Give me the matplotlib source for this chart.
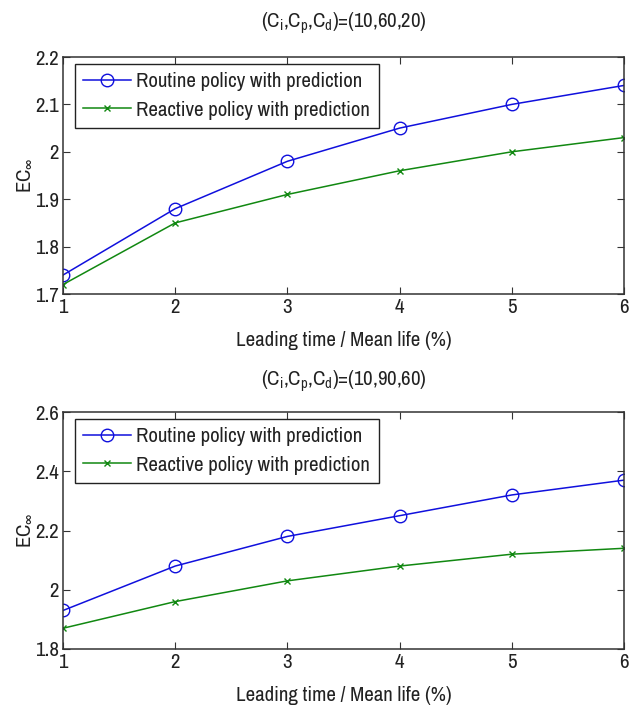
import matplotlib
matplotlib.use("Agg")
import matplotlib.pyplot as plt
from matplotlib import font_manager

names = {f.name for f in font_manager.fontManager.ttflist}
pref = ['Archivo Narrow', 'Liberation Sans Narrow', 'Roboto Condensed', 'PT Sans Narrow', 'Liberation Sans']
fam = [n for n in pref if n in names][:1] + ['DejaVu Sans']
plt.rcParams['font.family'] = fam
plt.rcParams['mathtext.fontset'] = 'custom'
plt.rcParams['mathtext.rm'] = fam[0]
plt.rcParams['mathtext.it'] = fam[0]

x = [1, 2, 3, 4, 5, 6]
routine_top = [1.74, 1.88, 1.98, 2.05, 2.10, 2.14]
reactive_top = [1.72, 1.85, 1.91, 1.96, 2.00, 2.03]
routine_bot = [1.93, 2.08, 2.18, 2.25, 2.32, 2.37]
reactive_bot = [1.87, 1.96, 2.03, 2.08, 2.12, 2.14]
titles = [r'(C$_\mathregular{i}$,C$_\mathregular{p}$,C$_\mathregular{d}$)=(10,60,20)',
          r'(C$_\mathregular{i}$,C$_\mathregular{p}$,C$_\mathregular{d}$)=(10,90,60)']
yticks_top = [1.7, 1.8, 1.9, 2.0, 2.1, 2.2]
ytick_labels_top = ['1.7', '1.8', '1.9', '2', '2.1', '2.2']
yticks_bot = [1.8, 2.0, 2.2, 2.4, 2.6]
ytick_labels_bot = ['1.8', '2', '2.2', '2.4', '2.6']
labels = ['Routine policy with prediction', 'Reactive policy with prediction']
xlabel = 'Leading time / Mean life (%)'

W, H = 639, 717
fig = plt.figure(figsize=(W / 100, H / 100), dpi=100)
ax1 = fig.add_axes([63 / W, 1 - 294 / H, 561 / W, 237 / H])
ax2 = fig.add_axes([63 / W, 1 - 649 / H, 561 / W, 237 / H])

fs = 15
for ax, r, c, t, yt, ytl, tpad in [(ax1, routine_top, reactive_top, titles[0], yticks_top, ytick_labels_top, 21),
                                    (ax2, routine_bot, reactive_bot, titles[1], yticks_bot, ytick_labels_bot, 19)]:
    ax.plot(x, r, color='#1010dd', marker='o', markerfacecolor='none', markersize=9,
            markeredgewidth=1.0, lw=1.1, label=labels[0])
    ax.plot(x, c, color='#118811', marker='x', markersize=5, lw=1.1, label=labels[1])
    ax.set_xlim(1, 6)
    ax.set_ylim(yt[0], yt[-1])
    ax.set_xticks(x)
    ax.set_yticks(yt)
    ax.set_yticklabels(ytl)
    ax.tick_params(direction='in', top=True, right=True, labelsize=fs, length=5, width=0.8,
                   pad=3, colors='#333333', labelcolor='#222222')
    for s in ax.spines.values():
        s.set_color('#333333')
        s.set_linewidth(1.1)
    ax.set_title(t, fontsize=fs, pad=tpad, color='#222222')
    ax.set_xlabel(xlabel, fontsize=fs, labelpad=10, color='#222222')
    ax.set_ylabel(r'EC$_\infty$', fontsize=fs, labelpad=1, color='#222222')
    leg = ax.legend(loc='upper left', bbox_to_anchor=(12 / 561, 1 - 7 / 237), borderaxespad=0,
                    fontsize=fs, fancybox=False, framealpha=1,
                    edgecolor='#222222', borderpad=0.4, handlelength=2.3, handletextpad=0.25,
                    labelspacing=0.45)
    leg.get_frame().set_linewidth(1.0)
    for txt in leg.get_texts():
        txt.set_color('#222222')

fig.savefig('out.png', dpi=100)
